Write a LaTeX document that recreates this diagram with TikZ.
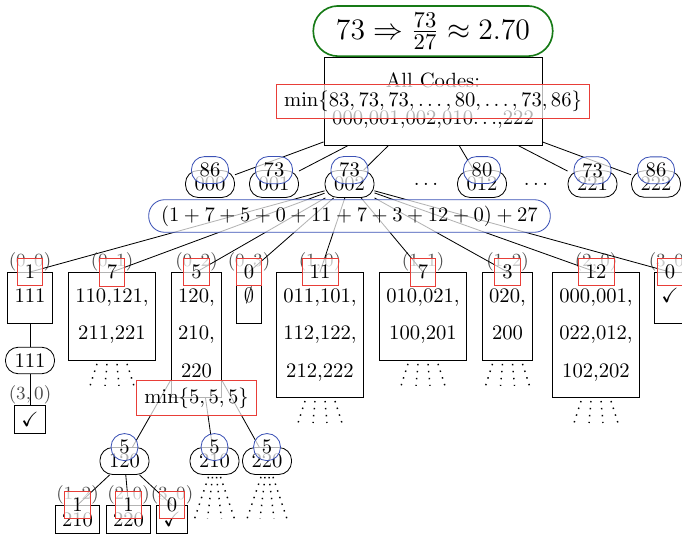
\documentclass[tikz,border=0pt]{standalone}
\usepackage{amsmath,amssymb}
\usetikzlibrary{calc}
\definecolor{cntred}{RGB}{232,62,56}
\definecolor{scoblue}{RGB}{60,82,182}
\definecolor{bestgreen}{RGB}{22,122,22}
\begin{document}
\begin{tikzpicture}[x=0.485pt, y=-0.485pt,
  codebox/.style={draw, rectangle, align=center, inner xsep=3.4pt, inner ysep=6.35pt, anchor=north},
  leafbox/.style={draw, rectangle, inner sep=3.33pt, anchor=north},
  guess/.style={draw, rectangle, rounded corners=6.2pt, inner xsep=4.4pt, inner ysep=3.1pt},
  cnt/.style={draw=cntred, fill=white, fill opacity=0.7, text opacity=1, inner xsep=3.75pt, inner ysep=3.3pt},
  sco/.style={draw=scoblue, fill=white, fill opacity=0.7, text opacity=1, rounded corners=6.3pt, inner xsep=4pt, inner ysep=3.1pt, minimum height=12.8pt, minimum width=13pt},
  sumbox/.style={draw=scoblue, fill=white, fill opacity=0.7, text opacity=1, rounded corners=7.7pt, inner xsep=6pt, inner ysep=2.9pt},
  fb/.style={font=\small, text=black!70, inner sep=0pt},
  dotfan/.style={line width=0.7pt, dash pattern=on 0.7pt off 2.7pt},
]
\useasboundingbox (0,0) rectangle (682,534);
\clip (0,0) rectangle (682,534);

% root: every code is still possible
\node[codebox, inner xsep=4pt] (root) at (433,57) {\strut All Codes:\\[6pt]\strut 000,001,002,010$\ldots$,222};
\node[draw=bestgreen, line width=0.8pt, rounded corners=12pt, inner xsep=11pt, anchor=south,
      font=\fontsize{15.5}{18}\selectfont] (best) at (root.north) {$73\Rightarrow\frac{73}{27}\approx 2.70$};

% first guesses
\node[guess] (g000) at (210,184) {000};
\node[guess] (g001) at (274,184) {001};
\node[guess] (g002) at (349.5,184) {002};
\node (gd1) at (426,184) {$\ldots$};
\node[guess] (g012) at (482,184) {012};
\node (gd2) at (536,184) {$\ldots$};
\node[guess] (g221) at (592.5,184) {221};
\node[guess] (g222) at (656,184) {222};
\foreach \g in {g000,g001,g002,g012,g221,g222} \draw (root) -- (\g);

% answers to guess 002
\node[codebox, label={[fb]above:$(0,0)$}] (b00) at (30,272) {\strut 111};
\node[codebox, label={[fb]above:$(0,1)$}] (b01) at (112,272) {\strut 110,121,\\[6pt]\strut 211,221};
\node[codebox, label={[fb]above:$(0,2)$}] (b02) at (196.5,272) {\strut 120,\\[6pt]\strut 210,\\[6pt]\strut 220};
\node[codebox, label={[fb]above:$(0,3)$}] (b03) at (249,272) {\strut $\emptyset$};
\node[codebox, label={[fb]above:$(1,0)$}] (b10) at (320,272) {\strut 011,101,\\[6pt]\strut 112,122,\\[6pt]\strut 212,222};
\node[codebox, label={[fb]above:$(1,1)$}] (b11) at (423,272) {\strut 010,021,\\[6pt]\strut 100,201};
\node[codebox, label={[fb]above:$(1,2)$}] (b12) at (507.5,272) {\strut 020,\\[6pt]\strut 200};
\node[codebox, label={[fb]above:$(2,0)$}] (b20) at (596,272) {\strut 000,001,\\[6pt]\strut 022,012,\\[6pt]\strut 102,202};
\node[codebox, label={[fb]above:$(3,0)$}] (b30) at (670,272) {\strut $\checkmark$};
\foreach \b in {b00,b01,b02,b03,b10,b11,b12,b20,b30} \draw (g002) -- (\b.north);

% single code left: 111
\node[guess] (r111) at (30,360.5) {111};
\node[leafbox, label={[fb]above:$(3,0)$}] (c111) at (30,405) {$\checkmark$};
\draw (b00) -- (r111);
\draw (r111) -- (c111.north);

% three codes left: 120, 210, 220
\node[guess] (r120) at (124.5,461) {120};
\node[guess] (r210) at (214.5,461) {210};
\node[guess] (r220) at (267,461) {220};
\foreach \g in {r120,r210,r220} \draw (b02) -- (\g);

\node[leafbox, label={[fb]above:$(1,2)$}] (d12) at (77.5,505) {210};
\node[leafbox, label={[fb]above:$(2,0)$}] (d20) at (128.5,505) {220};
\node[leafbox, label={[fb]above:$(3,0)$}] (d30) at (172,505) {$\checkmark$};
\foreach \d in {d12,d20,d30} \draw (r120) -- (\d.north);

% unexpanded subtrees
\foreach \b in {b01,b10,b11,b12,b20}
  \foreach \t/\e in {-15/-22,-5/-7,5/7,15/22}
    \draw[dotfan] ($(\b.south)+(\t,3)$) -- ($(\b.south)+(\e,25)$);
\foreach \g in {r210,r220}
  \foreach \t/\e in {-6/-20,-2/-7,2/7,6/20}
    \draw[dotfan] ($(\g.south)+(\t,2)$) -- ($(\g.south)+(\e,44)$);

% costs and counts on top
\node[cnt] (mroot) at (root.center) {$\min\{83,73,73,\ldots,80,\ldots,73,86\}$};
\node[sco] at (g000.north) {86};
\node[sco] at (g001.north) {73};
\node[sco] at (g002.north) {73};
\node[sco] at (g012.north) {80};
\node[sco] at (g221.north) {73};
\node[sco] at (g222.north) {86};
\node[sumbox] (sum) at (349.5,216) {$(1+7+5+0+11+7+3+12+0)+27$};

\node[cnt] at (b00.north) {1};
\node[cnt] at (b01.north) {7};
\node[cnt] at (b02.north) {5};
\node[cnt] at (b03.north) {0};
\node[cnt] at (b10.north) {11};
\node[cnt] at (b11.north) {7};
\node[cnt] at (b12.north) {3};
\node[cnt] at (b20.north) {12};
\node[cnt] at (b30.north) {0};

\node[cnt] (m02) at (b02.south) {$\min\{5,5,5\}$};
\node[sco] at (r120.north) {5};
\node[sco] at (r210.north) {5};
\node[sco] at (r220.north) {5};

\node[cnt] at (d12.north) {1};
\node[cnt] at (d20.north) {1};
\node[cnt] at (d30.north) {0};
\end{tikzpicture}
\end{document}
